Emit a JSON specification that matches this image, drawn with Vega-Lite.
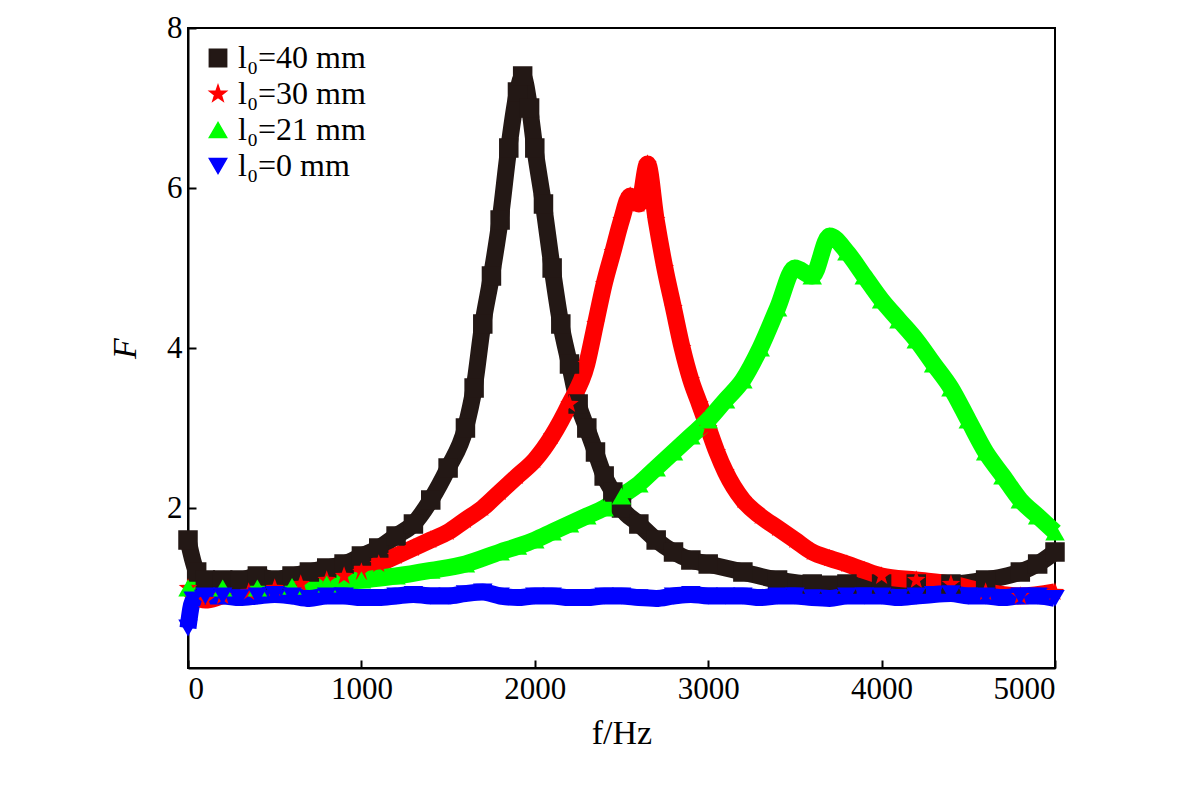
{
"$schema":"https://vega.github.io/schema/vega-lite/v6.json",
"width":867,"height":640,
"autosize":{"type":"none"},
"padding":{"left":188,"top":28,"right":126,"bottom":134},
"config":{"font":"Liberation Serif","view":{"stroke":"black","strokeWidth":2},
"axis":{"labelFont":"Liberation Serif","titleFont":"Liberation Serif","labelFontSize":31,"titleFontSize":34,"labelColor":"black","titleColor":"black","domainColor":"black","tickColor":"black","grid":false,"titleFontWeight":"normal","tickSize":-8,"domainWidth":2,"tickWidth":2,"labelPadding":14}},
"datasets":{"d":[
{"s":"l₀=40 mm","f":0,"F":1.6},{"s":"l₀=40 mm","f":50,"F":1.2},{"s":"l₀=40 mm","f":100,"F":1.1},{"s":"l₀=40 mm","f":200,"F":1.1},{"s":"l₀=40 mm","f":300,"F":1.1},{"s":"l₀=40 mm","f":400,"F":1.15},{"s":"l₀=40 mm","f":500,"F":1.1},{"s":"l₀=40 mm","f":600,"F":1.15},{"s":"l₀=40 mm","f":700,"F":1.2},{"s":"l₀=40 mm","f":800,"F":1.25},{"s":"l₀=40 mm","f":900,"F":1.3},{"s":"l₀=40 mm","f":1000,"F":1.4},{"s":"l₀=40 mm","f":1100,"F":1.5},{"s":"l₀=40 mm","f":1200,"F":1.65},{"s":"l₀=40 mm","f":1300,"F":1.8},{"s":"l₀=40 mm","f":1400,"F":2.1},{"s":"l₀=40 mm","f":1500,"F":2.5},{"s":"l₀=40 mm","f":1600,"F":3.0},{"s":"l₀=40 mm","f":1650,"F":3.5},{"s":"l₀=40 mm","f":1700,"F":4.3},{"s":"l₀=40 mm","f":1750,"F":4.9},{"s":"l₀=40 mm","f":1800,"F":5.6},{"s":"l₀=40 mm","f":1850,"F":6.5},{"s":"l₀=40 mm","f":1900,"F":7.2},{"s":"l₀=40 mm","f":1930,"F":7.4},{"s":"l₀=40 mm","f":1970,"F":7.0},{"s":"l₀=40 mm","f":2000,"F":6.5},{"s":"l₀=40 mm","f":2050,"F":5.8},{"s":"l₀=40 mm","f":2100,"F":5.0},{"s":"l₀=40 mm","f":2150,"F":4.3},{"s":"l₀=40 mm","f":2200,"F":3.8},{"s":"l₀=40 mm","f":2250,"F":3.3},{"s":"l₀=40 mm","f":2300,"F":3.0},{"s":"l₀=40 mm","f":2350,"F":2.7},{"s":"l₀=40 mm","f":2400,"F":2.4},{"s":"l₀=40 mm","f":2450,"F":2.2},{"s":"l₀=40 mm","f":2500,"F":2.0},{"s":"l₀=40 mm","f":2600,"F":1.8},{"s":"l₀=40 mm","f":2700,"F":1.6},{"s":"l₀=40 mm","f":2800,"F":1.45},{"s":"l₀=40 mm","f":2900,"F":1.35},{"s":"l₀=40 mm","f":3000,"F":1.3},{"s":"l₀=40 mm","f":3200,"F":1.2},{"s":"l₀=40 mm","f":3400,"F":1.1},{"s":"l₀=40 mm","f":3600,"F":1.05},{"s":"l₀=40 mm","f":3800,"F":1.05},{"s":"l₀=40 mm","f":4000,"F":1.05},{"s":"l₀=40 mm","f":4200,"F":1.05},{"s":"l₀=40 mm","f":4400,"F":1.05},{"s":"l₀=40 mm","f":4600,"F":1.1},{"s":"l₀=40 mm","f":4800,"F":1.2},{"s":"l₀=40 mm","f":4900,"F":1.3},{"s":"l₀=40 mm","f":5000,"F":1.45},
{"s":"l₀=30 mm","f":0,"F":1.0},{"s":"l₀=30 mm","f":100,"F":0.85},{"s":"l₀=30 mm","f":200,"F":0.9},{"s":"l₀=30 mm","f":350,"F":0.95},{"s":"l₀=30 mm","f":500,"F":1.0},{"s":"l₀=30 mm","f":650,"F":1.05},{"s":"l₀=30 mm","f":800,"F":1.1},{"s":"l₀=30 mm","f":900,"F":1.15},{"s":"l₀=30 mm","f":1000,"F":1.2},{"s":"l₀=30 mm","f":1100,"F":1.3},{"s":"l₀=30 mm","f":1200,"F":1.4},{"s":"l₀=30 mm","f":1300,"F":1.5},{"s":"l₀=30 mm","f":1400,"F":1.6},{"s":"l₀=30 mm","f":1500,"F":1.7},{"s":"l₀=30 mm","f":1600,"F":1.85},{"s":"l₀=30 mm","f":1700,"F":2.0},{"s":"l₀=30 mm","f":1800,"F":2.2},{"s":"l₀=30 mm","f":1900,"F":2.4},{"s":"l₀=30 mm","f":2000,"F":2.6},{"s":"l₀=30 mm","f":2100,"F":2.9},{"s":"l₀=30 mm","f":2200,"F":3.3},{"s":"l₀=30 mm","f":2300,"F":3.8},{"s":"l₀=30 mm","f":2350,"F":4.3},{"s":"l₀=30 mm","f":2400,"F":4.8},{"s":"l₀=30 mm","f":2450,"F":5.2},{"s":"l₀=30 mm","f":2500,"F":5.6},{"s":"l₀=30 mm","f":2550,"F":5.9},{"s":"l₀=30 mm","f":2600,"F":5.8},{"s":"l₀=30 mm","f":2650,"F":6.3},{"s":"l₀=30 mm","f":2700,"F":5.6},{"s":"l₀=30 mm","f":2750,"F":5.0},{"s":"l₀=30 mm","f":2800,"F":4.5},{"s":"l₀=30 mm","f":2850,"F":4.0},{"s":"l₀=30 mm","f":2900,"F":3.6},{"s":"l₀=30 mm","f":2950,"F":3.3},{"s":"l₀=30 mm","f":3000,"F":3.0},{"s":"l₀=30 mm","f":3050,"F":2.7},{"s":"l₀=30 mm","f":3100,"F":2.45},{"s":"l₀=30 mm","f":3200,"F":2.1},{"s":"l₀=30 mm","f":3300,"F":1.9},{"s":"l₀=30 mm","f":3400,"F":1.75},{"s":"l₀=30 mm","f":3500,"F":1.6},{"s":"l₀=30 mm","f":3600,"F":1.45},{"s":"l₀=30 mm","f":3700,"F":1.37},{"s":"l₀=30 mm","f":3800,"F":1.3},{"s":"l₀=30 mm","f":3900,"F":1.22},{"s":"l₀=30 mm","f":4000,"F":1.15},{"s":"l₀=30 mm","f":4200,"F":1.1},{"s":"l₀=30 mm","f":4400,"F":1.05},{"s":"l₀=30 mm","f":4600,"F":0.95},{"s":"l₀=30 mm","f":4800,"F":0.9},{"s":"l₀=30 mm","f":5000,"F":0.95},
{"s":"l₀=21 mm","f":0,"F":1.0},{"s":"l₀=21 mm","f":200,"F":1.0},{"s":"l₀=21 mm","f":400,"F":1.0},{"s":"l₀=21 mm","f":600,"F":1.02},{"s":"l₀=21 mm","f":800,"F":1.05},{"s":"l₀=21 mm","f":1000,"F":1.1},{"s":"l₀=21 mm","f":1200,"F":1.15},{"s":"l₀=21 mm","f":1400,"F":1.22},{"s":"l₀=21 mm","f":1600,"F":1.3},{"s":"l₀=21 mm","f":1800,"F":1.45},{"s":"l₀=21 mm","f":1900,"F":1.52},{"s":"l₀=21 mm","f":2000,"F":1.6},{"s":"l₀=21 mm","f":2100,"F":1.7},{"s":"l₀=21 mm","f":2200,"F":1.8},{"s":"l₀=21 mm","f":2300,"F":1.9},{"s":"l₀=21 mm","f":2400,"F":2.0},{"s":"l₀=21 mm","f":2500,"F":2.15},{"s":"l₀=21 mm","f":2600,"F":2.3},{"s":"l₀=21 mm","f":2700,"F":2.5},{"s":"l₀=21 mm","f":2800,"F":2.7},{"s":"l₀=21 mm","f":2900,"F":2.9},{"s":"l₀=21 mm","f":3000,"F":3.1},{"s":"l₀=21 mm","f":3100,"F":3.35},{"s":"l₀=21 mm","f":3200,"F":3.6},{"s":"l₀=21 mm","f":3300,"F":4.0},{"s":"l₀=21 mm","f":3400,"F":4.5},{"s":"l₀=21 mm","f":3500,"F":5.0},{"s":"l₀=21 mm","f":3600,"F":4.9},{"s":"l₀=21 mm","f":3700,"F":5.4},{"s":"l₀=21 mm","f":3800,"F":5.2},{"s":"l₀=21 mm","f":3900,"F":4.9},{"s":"l₀=21 mm","f":4000,"F":4.6},{"s":"l₀=21 mm","f":4100,"F":4.35},{"s":"l₀=21 mm","f":4200,"F":4.1},{"s":"l₀=21 mm","f":4300,"F":3.8},{"s":"l₀=21 mm","f":4400,"F":3.5},{"s":"l₀=21 mm","f":4500,"F":3.1},{"s":"l₀=21 mm","f":4600,"F":2.7},{"s":"l₀=21 mm","f":4700,"F":2.4},{"s":"l₀=21 mm","f":4800,"F":2.1},{"s":"l₀=21 mm","f":4900,"F":1.9},{"s":"l₀=21 mm","f":5000,"F":1.7},
{"s":"l₀=0 mm","f":0,"F":0.5},{"s":"l₀=0 mm","f":30,"F":0.85},{"s":"l₀=0 mm","f":100,"F":0.9},{"s":"l₀=0 mm","f":200,"F":0.9},{"s":"l₀=0 mm","f":300,"F":0.88},{"s":"l₀=0 mm","f":400,"F":0.9},{"s":"l₀=0 mm","f":500,"F":0.92},{"s":"l₀=0 mm","f":600,"F":0.9},{"s":"l₀=0 mm","f":700,"F":0.87},{"s":"l₀=0 mm","f":800,"F":0.9},{"s":"l₀=0 mm","f":900,"F":0.9},{"s":"l₀=0 mm","f":1000,"F":0.88},{"s":"l₀=0 mm","f":1100,"F":0.88},{"s":"l₀=0 mm","f":1200,"F":0.9},{"s":"l₀=0 mm","f":1300,"F":0.92},{"s":"l₀=0 mm","f":1400,"F":0.9},{"s":"l₀=0 mm","f":1500,"F":0.9},{"s":"l₀=0 mm","f":1600,"F":0.93},{"s":"l₀=0 mm","f":1700,"F":0.95},{"s":"l₀=0 mm","f":1800,"F":0.9},{"s":"l₀=0 mm","f":1900,"F":0.88},{"s":"l₀=0 mm","f":2000,"F":0.9},{"s":"l₀=0 mm","f":2100,"F":0.9},{"s":"l₀=0 mm","f":2200,"F":0.88},{"s":"l₀=0 mm","f":2300,"F":0.88},{"s":"l₀=0 mm","f":2400,"F":0.9},{"s":"l₀=0 mm","f":2500,"F":0.9},{"s":"l₀=0 mm","f":2600,"F":0.88},{"s":"l₀=0 mm","f":2700,"F":0.87},{"s":"l₀=0 mm","f":2800,"F":0.9},{"s":"l₀=0 mm","f":2900,"F":0.92},{"s":"l₀=0 mm","f":3000,"F":0.9},{"s":"l₀=0 mm","f":3100,"F":0.9},{"s":"l₀=0 mm","f":3200,"F":0.9},{"s":"l₀=0 mm","f":3300,"F":0.88},{"s":"l₀=0 mm","f":3400,"F":0.9},{"s":"l₀=0 mm","f":3500,"F":0.9},{"s":"l₀=0 mm","f":3600,"F":0.88},{"s":"l₀=0 mm","f":3700,"F":0.87},{"s":"l₀=0 mm","f":3800,"F":0.9},{"s":"l₀=0 mm","f":3900,"F":0.9},{"s":"l₀=0 mm","f":4000,"F":0.9},{"s":"l₀=0 mm","f":4100,"F":0.88},{"s":"l₀=0 mm","f":4200,"F":0.9},{"s":"l₀=0 mm","f":4300,"F":0.92},{"s":"l₀=0 mm","f":4400,"F":0.93},{"s":"l₀=0 mm","f":4500,"F":0.9},{"s":"l₀=0 mm","f":4600,"F":0.9},{"s":"l₀=0 mm","f":4700,"F":0.88},{"s":"l₀=0 mm","f":4800,"F":0.9},{"s":"l₀=0 mm","f":4900,"F":0.9},{"s":"l₀=0 mm","f":5000,"F":0.87}
]},
"data":{"name":"d"},
"encoding":{
"x":{"field":"f","type":"quantitative","scale":{"domain":[0,5000]},"axis":{"values":[0,1000,2000,3000,4000,5000],"format":"d","title":"f/Hz","titlePadding":12}},
"y":{"field":"F","type":"quantitative","scale":{"domain":[0,8]},"axis":{"values":[2,4,6,8],"title":"F","titleFontStyle":"italic","titlePadding":24}},
"color":{"field":"s","type":"nominal","sort":["l₀=40 mm","l₀=30 mm","l₀=21 mm","l₀=0 mm"],"scale":{"domain":["l₀=40 mm","l₀=30 mm","l₀=21 mm","l₀=0 mm"],"range":["#231815","#ff0000","#00ff00","#0000ff"]},
"legend":{"orient":"top-left","title":null,"labelFontSize":32,"labelFont":"Liberation Serif","labelColor":"black","symbolSize":300,"offset":14,"rowPadding":4}}
},
"layer":[
{"mark":{"type":"line","strokeWidth":17,"interpolate":"monotone"}},
{"mark":{"type":"point","filled":true,"size":380,"opacity":1},
"encoding":{"shape":{"field":"s","type":"nominal","sort":["l₀=40 mm","l₀=30 mm","l₀=21 mm","l₀=0 mm"],"scale":{"domain":["l₀=40 mm","l₀=30 mm","l₀=21 mm","l₀=0 mm"],"range":["square","M0,-1L0.235,-0.324L0.951,-0.309L0.380,0.124L0.588,0.809L0,0.4L-0.588,0.809L-0.380,0.124L-0.951,-0.309L-0.235,-0.324Z","triangle-up","triangle-down"]}}}}
]
}
